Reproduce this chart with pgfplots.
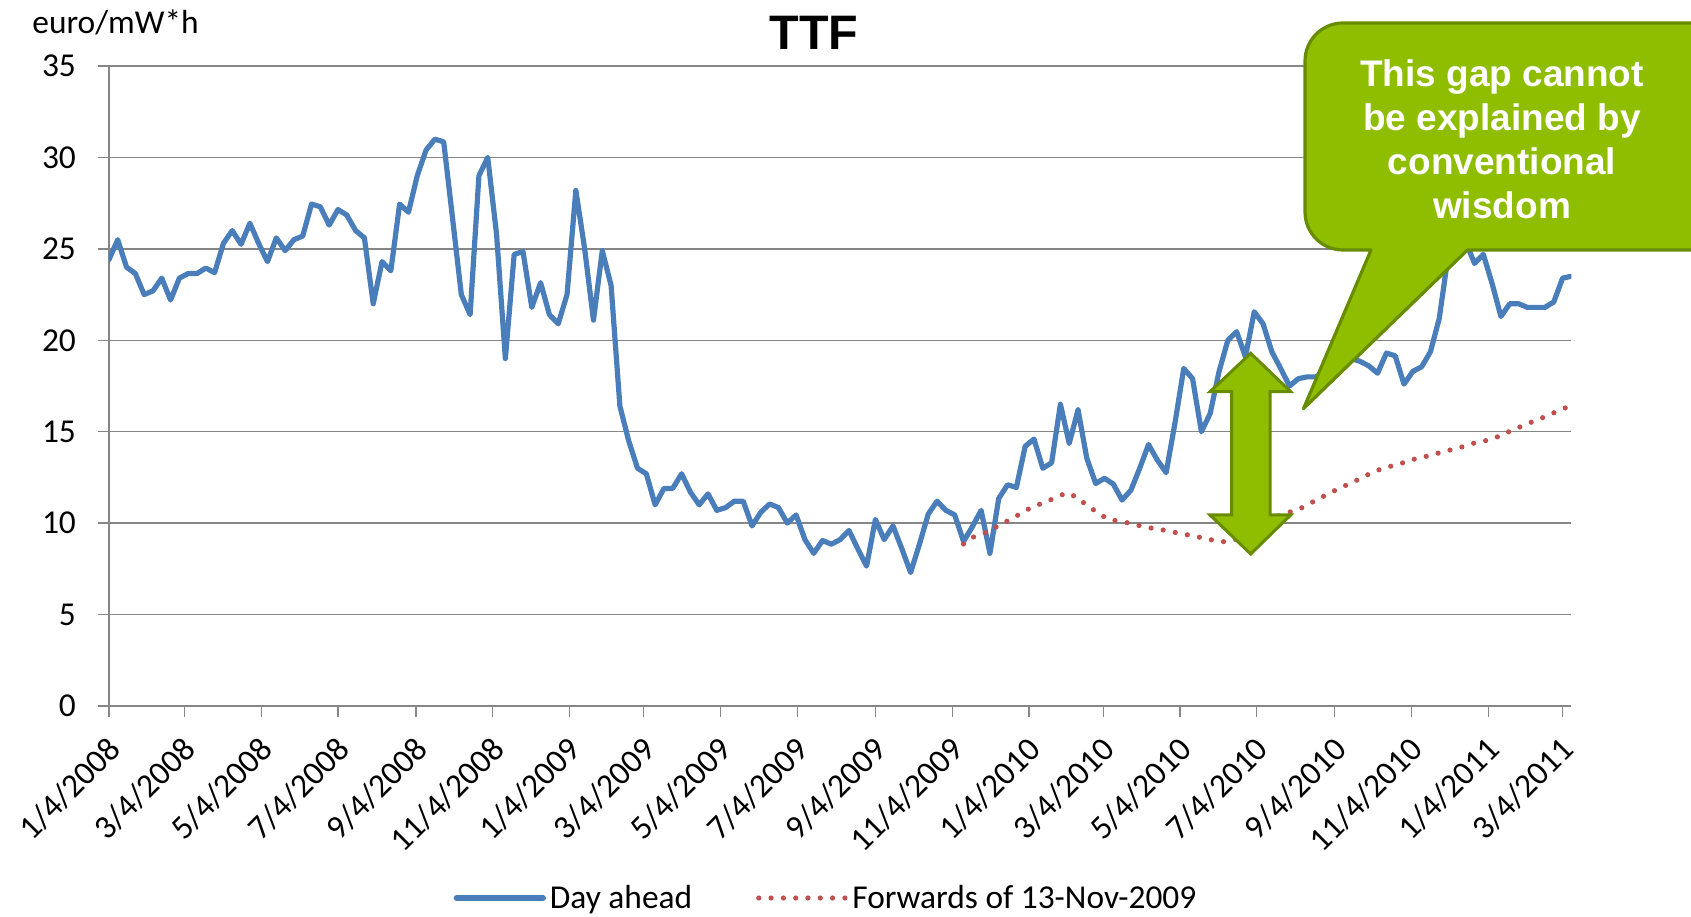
\documentclass[border=0pt]{standalone}
\usepackage{fontspec}
\setmainfont{Carlito}
\newfontfamily\arialfont{Liberation Sans}
\usepackage{pgfplots}
\pgfplotsset{compat=1.18}
\definecolor{dablue}{RGB}{74,126,187}
\definecolor{fwred}{RGB}{192,80,77}
\definecolor{gridgray}{RGB}{134,134,134}
\definecolor{callgreen}{RGB}{143,189,0}
\definecolor{calledge}{RGB}{104,140,0}
\newcommand\lblfont{\fontsize{16.7}{20}\selectfont}
\begin{document}
\begin{tikzpicture}[x=1pt,y=1pt]
\useasboundingbox (0,0) rectangle (845.5,458);
\begin{axis}[
  at={(54.45pt,105pt)}, anchor=south west,
  scale only axis, width=731.25pt, height=320pt,
  xmin=0, xmax=166, ymin=0, ymax=35,
  ytick={0,5,...,35},
  xtick={0,8.571,17.286,26,34.857,43.571,52.286,60.714,69.429,78.143,87,95.714,104.429,112.857,121.571,130.286,139.143,147.857,156.571,165},
  xticklabels={1/4/2008,3/4/2008,5/4/2008,7/4/2008,9/4/2008,11/4/2008,1/4/2009,3/4/2009,5/4/2009,7/4/2009,9/4/2009,11/4/2009,1/4/2010,3/4/2010,5/4/2010,7/4/2010,9/4/2010,11/4/2010,1/4/2011,3/4/2011},
  axis x line*=bottom, axis y line*=left,
  axis line style={gridgray, line width=0.65pt, -},
  tick align=outside, major tick length=5.5pt,
  tick style={gridgray, line width=0.65pt},
  ymajorgrids, grid style={gridgray, line width=0.65pt},
  /pgf/number format/assume math mode=true,
  tick label style={font=\lblfont, text=black},
  yticklabel style={anchor=east, inner sep=0pt, xshift=-10.8pt},
  xticklabel style={xshift=-1.6pt, yshift=-8.6pt, rotate=45, anchor=north east, inner sep=0pt},
  legend style={at={(0.491,-0.300)}, anchor=center, draw=none, fill=none,
    font=\lblfont, inner sep=0pt,
    /tikz/every even column/.append style={column sep=30pt}},
  legend columns=2,
  legend image code/.code={\draw[#1] (0pt,0pt) -- (43.5pt,0pt);},
]
\addplot[dablue, line width=2.6pt, line join=round, line cap=round] table {
k v
0 24.4
1 25.5
2 24.0
3 23.65
4 22.5
5 22.7
6 23.4
7 22.2
8 23.4
9 23.65
10 23.65
11 23.95
12 23.7
13 25.3
14 26.0
15 25.25
16 26.4
17 25.3
18 24.3
19 25.6
20 24.9
21 25.5
22 25.7
23 27.45
24 27.3
25 26.3
26 27.15
27 26.85
28 26.0
29 25.6
30 22.0
31 24.3
32 23.8
33 27.45
34 27.0
35 29.0
36 30.4
37 31.0
38 30.85
39 26.7
40 22.5
41 21.4
42 29.0
43 30.0
44 25.8
45 19.0
46 24.7
47 24.85
48 21.8
49 23.15
50 21.4
51 20.9
52 22.5
53 28.2
54 25.0
55 21.1
56 24.9
57 23.0
58 16.4
59 14.5
60 13.0
61 12.7
62 11.0
63 11.9
64 11.9
65 12.7
66 11.7
67 11.0
68 11.6
69 10.7
70 10.85
71 11.2
72 11.2
73 9.85
74 10.6
75 11.05
76 10.85
77 10.0
78 10.45
79 9.1
80 8.35
81 9.05
82 8.85
83 9.1
84 9.6
85 8.6
86 7.65
87 10.2
88 9.1
89 9.85
90 8.6
91 7.3
92 8.85
93 10.5
94 11.2
95 10.7
96 10.45
97 9.0
98 9.8
99 10.7
100 8.35
101 11.35
102 12.1
103 11.95
104 14.2
105 14.6
106 13.0
107 13.3
108 16.5
109 14.36
110 16.2
111 13.54
112 12.17
113 12.45
114 12.14
115 11.26
116 11.8
117 13.0
118 14.3
119 13.45
120 12.76
121 15.47
122 18.46
123 17.9
124 15.0
125 16.0
126 18.28
127 20.0
128 20.47
129 19.1
130 21.56
131 20.9
132 19.37
133 18.46
134 17.5
135 17.9
136 18.0
137 18.0
138 18.3
139 18.6
140 18.9
141 19.0
142 18.85
143 18.6
144 18.2
145 19.3
146 19.15
147 17.6
148 18.3
149 18.55
150 19.37
151 21.2
152 24.6
153 25.8
154 25.4
155 24.2
156 24.7
157 23.1
158 21.3
159 22.0
160 22.0
161 21.8
162 21.8
163 21.8
164 22.1
165 23.4
166 23.5
};
\addlegendentry{Day ahead}
\addplot[fwred, line width=2.6pt, line cap=round, dash pattern=on 0pt off 6.15pt] table {
k v
97 8.86
98.2 9.26
99.6 9.5
100.9 9.84
102.2 10.17
103.4 10.5
104.7 10.86
106 11.1
107.4 11.38
108.7 11.66
110 11.4
111 10.95
112.2 10.6
113.4 10.2
114.8 10.1
116.3 9.95
117.7 9.77
119.1 9.68
120.6 9.53
122 9.4
123.5 9.26
124.9 9.11
126.4 8.98
127.8 9.08
129.2 9.5
130.6 9.9
132 10.25
133.3 10.5
134.4 10.66
135.7 10.9
137 11.26
138.3 11.57
139.6 11.9
140.9 12.17
142.2 12.48
143.5 12.8
144.9 13.05
146.3 13.2
147.7 13.45
149.1 13.6
150.5 13.78
151.9 13.96
153.4 14.14
154.8 14.36
156.2 14.5
157.6 14.72
158.9 15.0
160.2 15.27
161.6 15.55
162.9 15.8
164.3 16.1
165.6 16.36
166 16.45
};
\addlegendentry{Forwards of 13-Nov-2009}
\end{axis}
% titles
\node[anchor=base, font=\arialfont\bfseries\fontsize{24.2}{28}\selectfont] at (407,433.2) {TTF};
\node[anchor=base west, inner sep=0pt, font=\lblfont] at (16,441.3) {euro/mW*h};
% double arrow
\draw[fill=callgreen, draw=calledge, line width=1.5pt, line join=miter]
  (625.35,281.35) -- (645.35,262.15) -- (635,262.15) -- (635,200.5) -- (645.35,200.5)
  -- (625.35,181) -- (605,200.5) -- (615.85,200.5) -- (615.85,262.15) -- (605,262.15) -- cycle;
% callout
\draw[fill=callgreen, draw=calledge, line width=1.6pt, line join=round]
  (685.5,333) -- (651.75,253.7) -- (733.75,333) -- (870,333) -- (870,446.5) -- (671.5,446.5)
  arc[start angle=90, end angle=180, radius=19] -- (652.5,352)
  arc[start angle=180, end angle=270, radius=19] -- cycle;
\node[text=white, align=center, font=\arialfont\bfseries\fontsize{18.5}{22}\selectfont] at (751,388.5)
  {This gap cannot\\be explained by\\conventional\\wisdom};
\end{tikzpicture}
\end{document}
